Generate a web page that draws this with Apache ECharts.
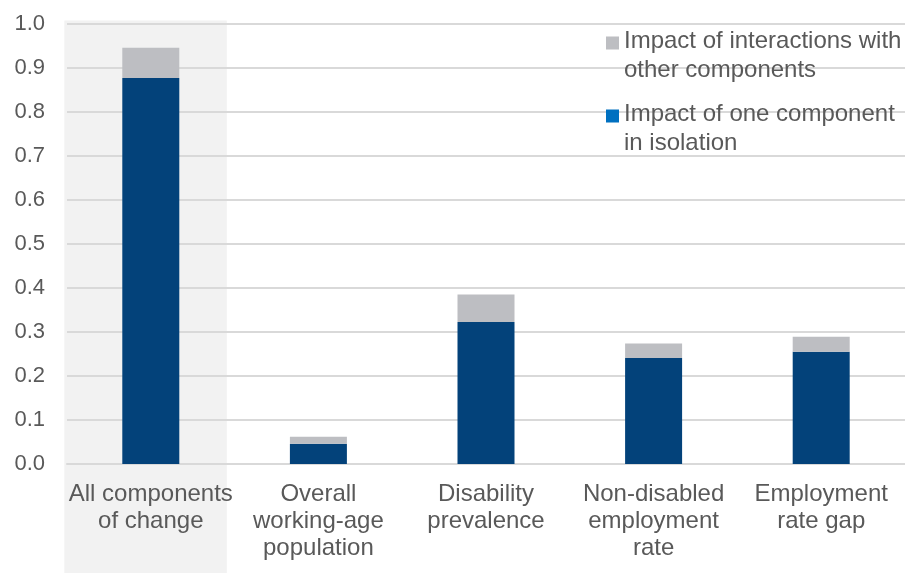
<!DOCTYPE html>
<html>
<head>
<meta charset="utf-8">
<script src="https://cdn.jsdelivr.net/npm/echarts@6/dist/echarts.min.js"></script>
<style>html,body{margin:0;padding:0;background:#fff;}#c{width:905px;height:573px;}</style>
</head>
<body>
<div id="c"></div>
<script>
var categories = ['All components\nof change', 'Overall\nworking-age\npopulation', 'Disability\nprevalence', 'Non-disabled\nemployment\nrate', 'Employment\nrate gap'];
var isolationValues = [0.877, 0.046, 0.323, 0.241, 0.255];
var interactionValues = [0.069, 0.016, 0.062, 0.033, 0.034];
var yTicks = [0, 0.1, 0.2, 0.3, 0.4, 0.5, 0.6, 0.7, 0.8, 0.9, 1.0];
var seriesNames = ['Impact of one component\nin isolation', 'Impact of interactions with\nother components'];

var FONT = '"Liberation Sans", Arial, sans-serif';
var TXT = '#595959';
var chart = echarts.init(document.getElementById('c'), null, {renderer: 'canvas'});
var sqIcon = 'path://M0,0h10v10h-10zM0,29.9h0.01v0.01h-0.01z';
var option = {
  animation: false,
  backgroundColor: '#ffffff',
  grid: {left: 67, top: 24, width: 840, height: 440, containLabel: false},
  legend: {
    orient: 'vertical',
    left: 606,
    top: 27,
    padding: 0,
    itemGap: 15,
    itemWidth: 13,
    itemHeight: 39,
    selectedMode: false,
    textStyle: {fontFamily: FONT, fontSize: 24, color: TXT, lineHeight: 29},
    data: [
      {name: seriesNames[1], icon: sqIcon, itemStyle: {color: '#BDBEC2'}},
      {name: seriesNames[0], icon: sqIcon, itemStyle: {color: '#0070C0'}}
    ]
  },
  xAxis: {
    type: 'category',
    data: categories,
    axisLine: {show: true, lineStyle: {color: '#d9d9d9', width: 2}},
    axisTick: {show: false},
    axisLabel: {fontFamily: FONT, fontSize: 24, color: TXT, lineHeight: 27, margin: 17, interval: 0}
  },
  yAxis: {
    type: 'value',
    min: yTicks[0],
    max: yTicks[yTicks.length - 1],
    interval: 0.1,
    axisLine: {show: false},
    axisTick: {show: false},
    splitLine: {lineStyle: {color: '#d9d9d9', width: 2}},
    axisLabel: {fontFamily: FONT, fontSize: 22, color: TXT, margin: 22,
      formatter: function (v) { return v.toFixed(1); }}
  },
  series: [
    {name: seriesNames[0], type: 'bar', stack: 's', data: isolationValues, barWidth: 57,
      itemStyle: {color: '#03427A'}},
    {name: seriesNames[1], type: 'bar', stack: 's', data: interactionValues, barWidth: 57,
      itemStyle: {color: '#BDBEC2'}}
  ]
};
chart.setOption(option);
var cx = chart.convertToPixel({xAxisIndex: 0}, categories[0]);
var topY = chart.convertToPixel({yAxisIndex: 0}, yTicks[yTicks.length - 1]);
chart.setOption({
  graphic: {elements: [{
    type: 'rect', z: -100, silent: true,
    shape: {x: cx - 86.5, y: topY - 3.5, width: 162.5, height: 573 - (topY - 3.5)},
    style: {fill: '#F2F2F2'}
  }]}
});
</script>
</body>
</html>
